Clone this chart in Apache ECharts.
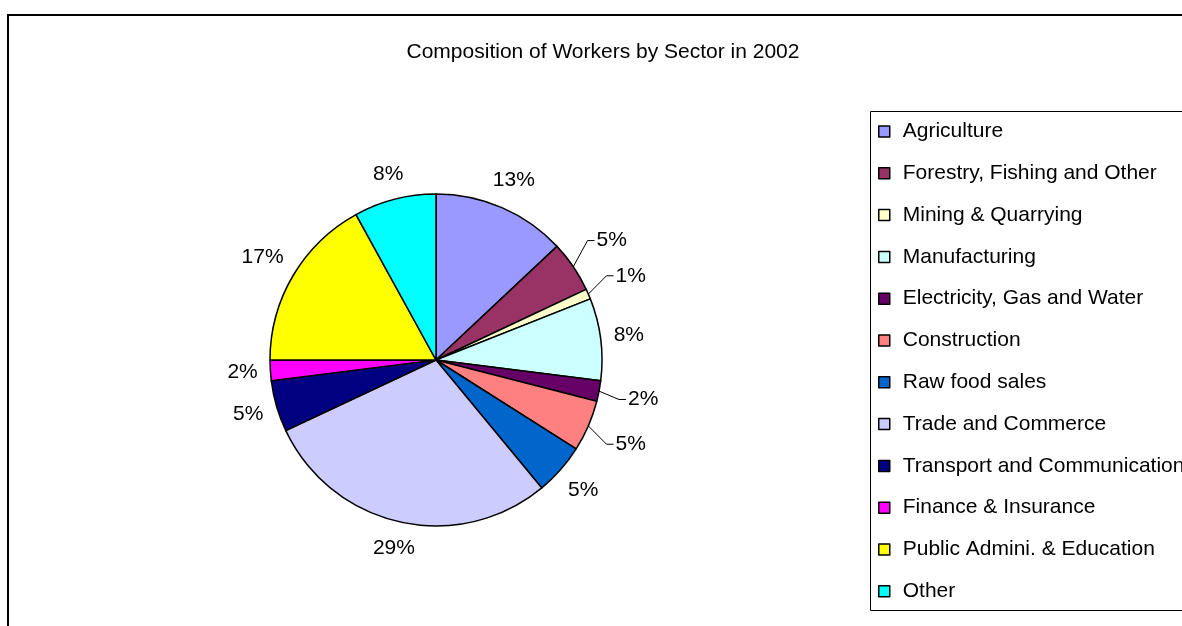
<!DOCTYPE html>
<html>
<head>
<meta charset="utf-8">
<title>Composition of Workers by Sector in 2002</title>
<script src="https://cdn.jsdelivr.net/npm/echarts@6/dist/echarts.min.js"></script>
<style>
  html, body { margin: 0; padding: 0; background: #ffffff; }
  #chart { width: 1182px; height: 626px; }
</style>
</head>
<body>
<div id="chart"></div>
<script>
// Sectors and their share of workers (percent)
const categories = [
  'Agriculture',
  'Forestry, Fishing and Other',
  'Mining & Quarrying',
  'Manufacturing',
  'Electricity, Gas and Water',
  'Construction',
  'Raw food sales',
  'Trade and Commerce',
  'Transport and Communication',
  'Finance & Insurance',
  'Public Admini. & Education',
  'Other'
];
const shares = [13, 5, 1, 8, 2, 5, 5, 29, 5, 2, 17, 8];
const sliceColors = [
  '#9999FF', '#993366', '#FFFFCC', '#CCFFFF', '#660066', '#FF8080',
  '#0066CC', '#CCCCFF', '#000080', '#FF00FF', '#FFFF00', '#00FFFF'
];
// Small slices whose labels sit farther out with a leader line
const leaderSectors = new Set([
  'Forestry, Fishing and Other', 'Mining & Quarrying',
  'Electricity, Gas and Water', 'Construction'
]);

const FONT = "'Liberation Sans Narrow', 'Arial Narrow', 'Liberation Sans', Arial, sans-serif";
const FONT_SIZE = 21;
const CX = 436, CY = 360, R = 166;

// Mid angle of each slice, clockwise from 12 o'clock
const total = shares.reduce((a, b) => a + b, 0);
let acc = 0;
const midAngles = shares.map(v => {
  const m = (acc + v / 2) / total * 2 * Math.PI;
  acc += v;
  return m;
});

const chart = echarts.init(document.getElementById('chart'), null, { renderer: 'canvas' });

chart.setOption({
  animation: false,
  backgroundColor: '#ffffff',
  textStyle: { fontFamily: FONT },
  title: {
    text: 'Composition of Workers by Sector in 2002',
    left: 598,
    top: 37,
    textAlign: 'center',
    textStyle: { fontFamily: FONT, fontSize: FONT_SIZE, fontWeight: 'normal', color: '#000' }
  },
  legend: {
    orient: 'vertical',
    left: 873,
    top: 116,
    icon: 'rect',
    itemWidth: 11,
    itemHeight: 11,
    itemGap: 20.8,
    selectedMode: false,
    data: categories,
    itemStyle: { borderColor: '#000', borderWidth: 1.5 },
    textStyle: { fontFamily: FONT, fontSize: FONT_SIZE, color: '#000', padding: [0, 0, 0, 8] }
  },
  graphic: [
    {
      type: 'rect', silent: true, z: -1,
      shape: { x: 8, y: 15, width: 1400, height: 800 },
      style: { fill: 'none', stroke: '#000', lineWidth: 2 }
    },
    {
      type: 'rect', silent: true, z: -1,
      shape: { x: 870.5, y: 111.5, width: 400, height: 499 },
      style: { fill: '#fff', stroke: '#000', lineWidth: 1 }
    }
  ],
  series: [{
    type: 'pie',
    center: [CX, CY],
    radius: R,
    startAngle: 90,
    clockwise: true,
    avoidLabelOverlap: false,
    emphasis: { disabled: true },
    itemStyle: { borderColor: '#000', borderWidth: 1.5 },
    label: {
      show: true,
      position: 'outside',
      fontFamily: FONT,
      fontSize: FONT_SIZE,
      color: '#000',
      formatter: p => Math.round(p.percent) + '%'
    },
    labelLine: { show: false, lineStyle: { color: '#000', width: 1 } },
    // Place each label just outside its slice, along the slice's mid angle
    labelLayout: function (params) {
      const i = params.dataIndex;
      const a = midAngles[i];
      const sx = Math.sin(a), sy = -Math.cos(a);
      const w = params.labelRect.width, h = params.labelRect.height;
      const leader = leaderSectors.has(categories[i]);
      const gap = leader ? 28 : 12;
      const d = R + gap + Math.abs(sx) * w / 2 + Math.abs(sy) * h / 2;
      const x = CX + sx * d, y = CY + sy * d;
      const out = { x: x, y: y, align: 'center', verticalAlign: 'middle' };
      if (leader) {
        const side = sx >= 0 ? 1 : -1;
        const tx = x - side * w / 2;
        out.labelLinePoints = [
          [CX + sx * R, CY + sy * R],
          [tx - side * 9, y],
          [tx - side * 2, y]
        ];
      }
      return out;
    },
    data: categories.map((name, i) => ({
      name: name,
      value: shares[i],
      itemStyle: { color: sliceColors[i] },
      labelLine: { show: leaderSectors.has(name) }
    }))
  }]
});
</script>
</body>
</html>
